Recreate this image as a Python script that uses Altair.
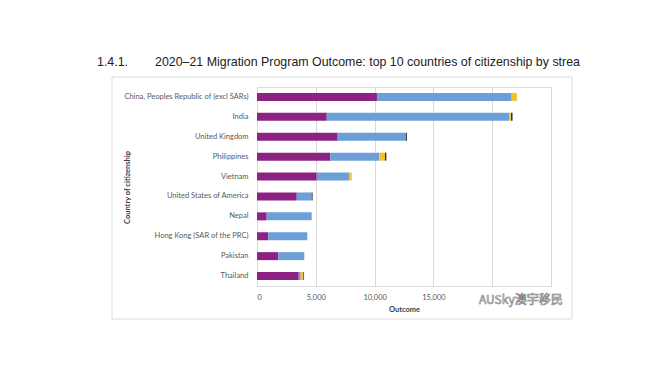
import altair as alt
import pandas as pd

countries = [
    "China, Peoples Republic of (excl SARs)", "India", "United Kingdom", "Philippines",
    "Vietnam", "United States of America", "Nepal", "Hong Kong (SAR of the PRC)",
    "Pakistan", "Thailand",
]
streams = ["Skill", "Family", "Child", "Special Eligibility"]
skill = [10200, 5930, 6860, 6230, 5080, 3380, 820, 960, 1810, 3550]
family = [11460, 15520, 5810, 4170, 2770, 1270, 3830, 3320, 2210, 170]
child = [440, 150, 0, 480, 200, 0, 0, 0, 0, 220]
special = [0, 130, 80, 120, 0, 80, 0, 0, 0, 60]
colors = ["#8C2282", "#6C9FD8", "#F4C02E", "#333333"]
x_ticks = [0, 5000, 10000, 15000, 20000, 25000]

rows = []
for i, c in enumerate(countries):
    for j, (s, vals) in enumerate(zip(streams, [skill, family, child, special])):
        rows.append({"country": c, "stream": s, "order": j, "value": vals[i]})
df = pd.DataFrame(rows)

frame = alt.Chart(pd.DataFrame({"a": [0]})).mark_rect(
    filled=False, stroke="#d9d9d9", strokeWidth=1, clip=False
).encode(x=alt.value(-145), x2=alt.value(315), y=alt.value(-10), y2=alt.value(232))

bars = alt.Chart(df).mark_bar(size=8).encode(
    x=alt.X("value:Q", stack="zero", title="Outcome",
            scale=alt.Scale(domain=[0, 25000], nice=False),
            axis=alt.Axis(values=x_ticks, grid=True, gridColor="#d9d9d9",
                          labelExpr="datum.value > 15000 ? '' : format(datum.value, ',')",
                          domain=False, ticks=False, labelFontSize=7.5, labelColor="#595959",
                          labelFont="Lato", labelPadding=7, titleFont="Lato",
                          titleFontSize=7.5, titleFontWeight="bold", titleColor="#404040",
                          titlePadding=5)),
    y=alt.Y("country:N", sort=countries, title="Country of citizenship",
            axis=alt.Axis(domain=False, ticks=False, grid=False, labelFontSize=7.5,
                          labelColor="#595959", labelFont="Lato", labelPadding=9,
                          titleFont="Lato", titleFontSize=7.5, titleFontWeight="bold",
                          titleColor="#404040", titleX=-130, titleY=100, titleAngle=-90,
                          titleAlign="center", titleBaseline="middle")),
    color=alt.Color("stream:N", scale=alt.Scale(domain=streams, range=colors), legend=None),
    order=alt.Order("order:Q"),
)

title_num = alt.Chart(pd.DataFrame({"t": ["1.4.1."]})).mark_text(
    align="left", baseline="middle", font="Liberation Sans", fontSize=12.4, color="#222222"
).encode(text="t:N", x=alt.value(-160), y=alt.value(-25))

title_txt = alt.Chart(pd.DataFrame(
    {"t": ["2020\u201321 Migration Program Outcome: top 10 countries of citizenship by strea"]}
)).mark_text(
    align="left", baseline="middle", font="Liberation Sans", fontSize=12.4, color="#222222"
).encode(text="t:N", x=alt.value(-102), y=alt.value(-25))

watermark = alt.Chart(pd.DataFrame({"t": ["AUSky澳宇移民"]})).mark_text(
    align="left", baseline="middle", font="Noto Sans CJK SC", fontSize=12,
    fill="#ffffff", stroke="#8a8a8a", strokeWidth=0.7
).encode(text="t:N", x=alt.value(222), y=alt.value(213))

chart = alt.layer(frame, bars, title_num, title_txt, watermark).properties(
    width=294, height=199,
    autosize=alt.AutoSizeParams(type="none"),
    padding={"left": 249, "top": 79, "right": 100, "bottom": 70},
).configure_view(stroke=None).configure(background="#ffffff")

chart.save("out.html", embed_options={"renderer": "svg", "actions": False})
